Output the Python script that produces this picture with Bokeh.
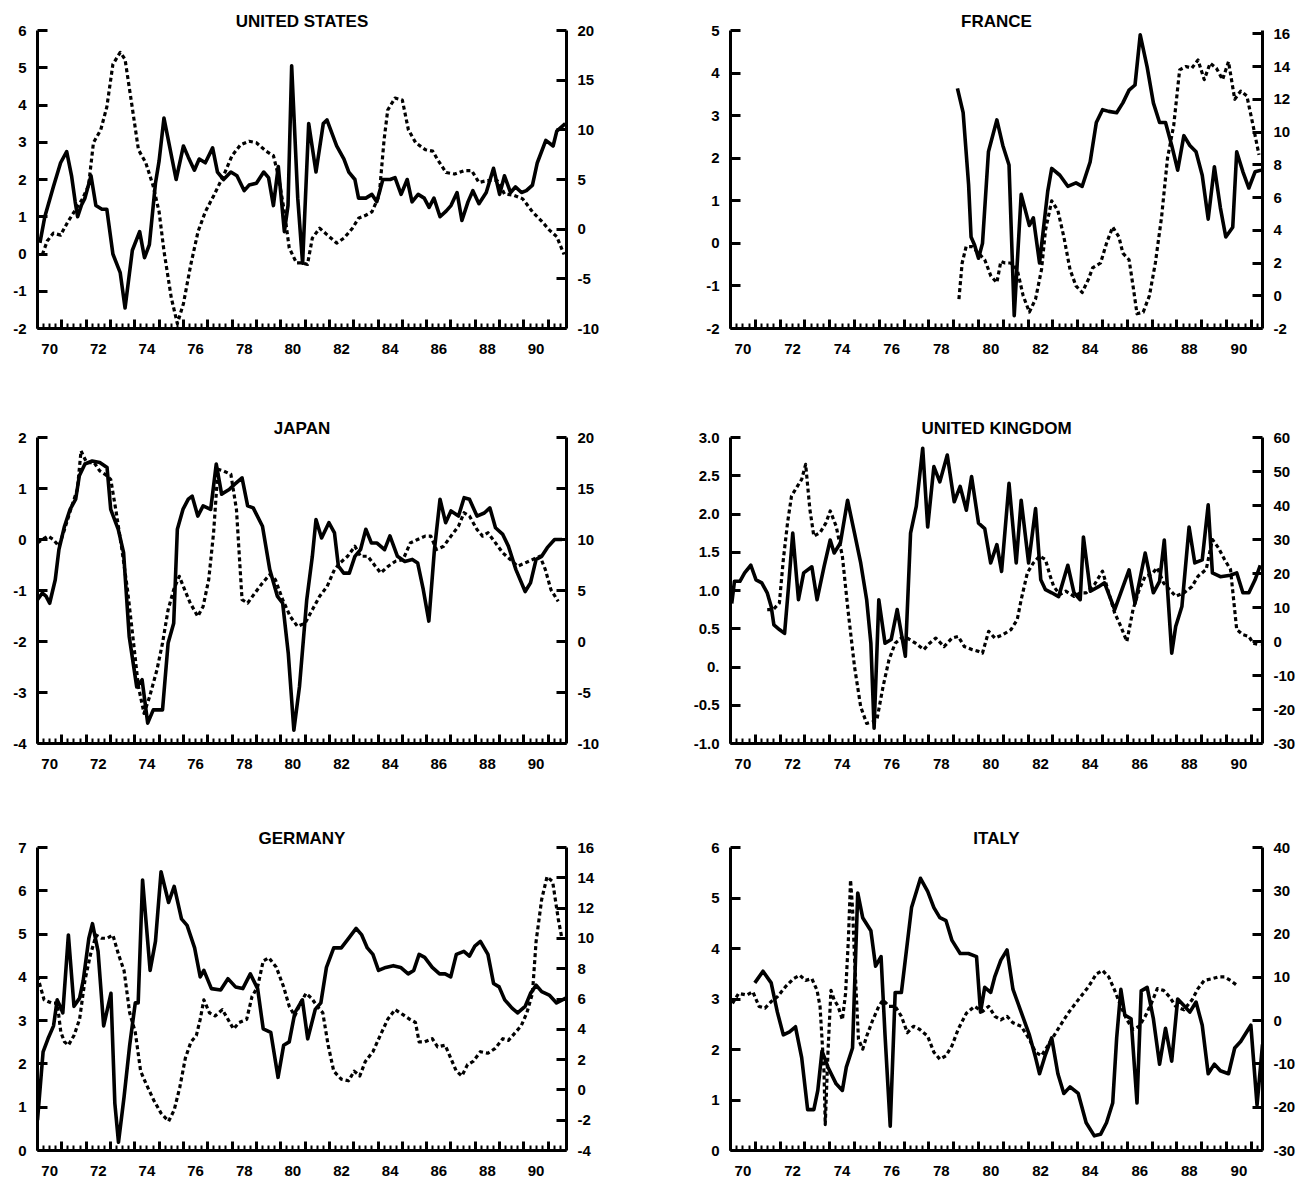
from bokeh.plotting import figure
from bokeh.models import Range1d, LinearAxis, FixedTicker, CustomLabelingPolicy
from bokeh.layouts import column, row
from bokeh.embed import file_html
from bokeh.resources import INLINE

# ---------------- data (year as 70.0 = start of 1970) ----------------
year_label_pos = [70.5, 72.5, 74.5, 76.5, 78.5, 80.5, 82.5, 84.5, 86.5, 88.5, 90.5]
year_labels = ["70", "72", "74", "76", "78", "80", "82", "84", "86", "88", "90"]

# UNITED STATES
us_solid_t = [70.1, 70.3, 70.65, 70.95, 71.2, 71.4, 71.55, 71.65, 71.8, 71.95, 72.2, 72.4, 72.65, 72.85,
              73.1, 73.4, 73.6, 73.9, 74.2, 74.4, 74.6, 74.85, 75.0, 75.2, 75.7, 76.0, 76.2, 76.45, 76.65,
              76.9, 77.2, 77.4, 77.65, 77.95, 78.2, 78.5, 78.7, 79.0, 79.3, 79.5, 79.7, 79.9, 80.15, 80.3,
              80.45, 80.7, 80.9, 81.15, 81.45, 81.75, 81.9, 82.3, 82.6, 82.8, 83.05, 83.2, 83.5, 83.75,
              83.95, 84.2, 84.5, 84.7, 84.95, 85.2, 85.4, 85.65, 85.9, 86.1, 86.3, 86.55, 86.8, 87.0,
              87.25, 87.45, 87.7, 87.9, 88.15, 88.45, 88.75, 89.0, 89.2, 89.45, 89.65, 89.9, 90.1, 90.35,
              90.55, 90.9, 91.2, 91.35, 91.7]
us_solid_v = [0.3, 1.0, 1.8, 2.45, 2.75, 2.1, 1.4, 1.0, 1.3, 1.5, 2.1, 1.3, 1.2, 1.2,
              0.0, -0.5, -1.45, 0.1, 0.6, -0.1, 0.25, 1.9, 2.5, 3.65, 2.0, 2.9, 2.6, 2.25, 2.55,
              2.45, 2.85, 2.2, 2.0, 2.2, 2.1, 1.7, 1.85, 1.9, 2.2, 2.05, 1.3, 2.35, 0.6, 1.3,
              5.05, 1.5, -0.25, 3.5, 2.2, 3.5, 3.6, 2.9, 2.55, 2.2, 2.0, 1.5, 1.5, 1.6,
              1.4, 2.0, 2.0, 2.05, 1.6, 2.0, 1.4, 1.6, 1.5, 1.25, 1.5, 1.0, 1.15, 1.3,
              1.65, 0.9, 1.4, 1.7, 1.35, 1.65, 2.3, 1.6, 2.1, 1.65, 1.8, 1.65, 1.7, 1.85,
              2.45, 3.05, 2.9, 3.3, 3.5]
us_dash_t = [70.2, 70.4, 70.65, 70.95, 71.25, 71.55, 71.85, 72.1, 72.3, 72.6, 72.85, 73.1, 73.4, 73.6,
             73.85, 74.15, 74.45, 74.75, 75.0, 75.2, 75.5, 75.75, 76.0, 76.3, 76.6, 76.9, 77.25, 77.65,
             78.0, 78.35, 78.7, 79.0, 79.4, 79.7, 79.9, 80.15, 80.35, 80.65, 80.9, 81.1, 81.3, 81.6,
             81.9, 82.3, 82.6, 82.95, 83.2, 83.5, 83.75, 84.05, 84.25, 84.4, 84.7, 85.0, 85.25, 85.55,
             85.95, 86.25, 86.45, 86.8, 87.15, 87.55, 87.85, 88.15, 88.5, 88.9, 89.2, 89.6, 89.95,
             90.35, 90.75, 91.05, 91.35, 91.65]
us_dash_v = [-2.55, -1.2, -0.4, -0.6, 0.75, 1.9, 3.05, 4.4, 8.7, 10.0, 12.3, 16.6, 17.8, 17.1,
             13.0, 8.0, 6.7, 4.4, 1.75, -2.2, -6.9, -9.5, -7.5, -3.6, -0.25, 1.75, 3.4, 5.4,
             7.4, 8.5, 8.85, 8.7, 7.85, 7.4, 5.4, 1.75, -1.9, -3.4, -3.4, -3.55, -0.9, 0.1,
             -0.55, -1.4, -0.9, 0.1, 1.1, 1.4, 1.75, 3.4, 9.0, 12.0, 13.2, 13.0, 10.0, 8.7,
             8.0, 7.85, 7.0, 5.7, 5.55, 5.9, 5.9, 4.7, 4.9, 4.9, 3.55, 3.4, 3.05,
             1.75, 0.75, -0.1, -0.75, -2.55]

# FRANCE
fr_solid_t = [79.15, 79.38, 79.6, 79.7, 79.84, 80.0, 80.16, 80.4, 80.74, 80.98, 81.23, 81.44, 81.72,
              82.05, 82.21, 82.46, 82.79, 82.95, 83.28, 83.6, 83.93, 84.18, 84.5, 84.75, 85.0, 85.25,
              85.57, 85.82, 86.07, 86.31, 86.52, 86.8, 87.05, 87.3, 87.54, 87.79, 88.03, 88.28, 88.52,
              88.77, 89.02, 89.26, 89.51, 89.75, 89.97, 90.25, 90.41, 90.66, 90.9, 91.15, 91.4]
fr_solid_v = [3.64, 3.07, 1.38, 0.15, -0.04, -0.35, 0.0, 2.15, 2.9, 2.3, 1.84, -1.7, 1.15,
              0.42, 0.6, -0.46, 1.22, 1.76, 1.6, 1.34, 1.42, 1.34, 1.91, 2.84, 3.14, 3.1,
              3.07, 3.3, 3.6, 3.72, 4.9, 4.14, 3.3, 2.84, 2.84, 2.3, 1.72, 2.53, 2.3,
              2.15, 1.6, 0.57, 1.8, 0.84, 0.15, 0.38, 2.15, 1.68, 1.3, 1.68, 1.72]
fr_dash_t = [79.21, 79.34, 79.5, 79.75, 80.0, 80.25, 80.5, 80.74, 80.9, 81.07, 81.3, 81.56, 81.8,
             82.05, 82.3, 82.54, 82.7, 82.95, 83.2, 83.44, 83.69, 83.93, 84.18, 84.43, 84.6, 84.92,
             85.16, 85.41, 85.66, 85.82, 86.07, 86.23, 86.39, 86.64, 86.89, 87.13, 87.38, 87.62,
             87.87, 88.11, 88.36, 88.6, 88.85, 89.1, 89.34, 89.59, 89.84, 90.08, 90.33, 90.57,
             90.82, 91.07, 91.31]
fr_dash_v = [-0.2, 2.0, 3.0, 3.0, 2.6, 2.2, 1.2, 0.8, 2.1, 2.0, 2.0, 1.6, 0.0,
             -1.0, -0.2, 1.6, 4.0, 5.8, 5.2, 3.6, 1.6, 0.6, 0.2, 1.0, 1.7, 2.0,
             3.2, 4.2, 3.6, 2.6, 2.2, 0.6, -1.1, -1.0, 0.0, 2.0, 4.8, 8.4,
             10.4, 13.8, 14.0, 13.9, 14.4, 13.2, 14.2, 13.9, 13.2, 14.3, 12.0, 12.5,
             12.2, 10.4, 8.6]

# JAPAN
jp_solid_t = [70.0, 70.2, 70.35, 70.5, 70.73, 70.88, 71.11, 71.34, 71.57, 71.72,
              71.95, 72.25, 72.56, 72.86, 73.01, 73.32, 73.54, 73.77, 74.08, 74.3,
              74.53, 74.76, 75.14, 75.37, 75.6, 75.75, 75.98, 76.2, 76.36, 76.59,
              76.81, 77.12, 77.35, 77.57, 77.88, 78.1, 78.41, 78.64, 78.87, 79.25,
              79.55, 79.86, 80.08, 80.31, 80.54, 80.77, 81.07, 81.3, 81.45, 81.68,
              81.98, 82.21, 82.37, 82.59, 82.82, 83.05, 83.28, 83.5, 83.73, 83.96,
              84.27, 84.49, 84.8, 85.1, 85.41, 85.63, 85.86, 86.09, 86.32, 86.55,
              86.78, 87.0, 87.31, 87.54, 87.76, 88.07, 88.37, 88.6, 88.83, 89.13,
              89.36, 89.67, 90.05, 90.27, 90.5, 90.73, 90.96, 91.26, 91.57]
jp_solid_v = [-1.18, -1.05, -1.11, -1.25, -0.79, -0.2, 0.26, 0.59, 0.79, 1.25,
              1.48, 1.54, 1.51, 1.41, 0.59, 0.2, -0.26, -1.9, -2.89, -2.75,
              -3.6, -3.34, -3.34, -2.03, -1.64, 0.2, 0.59, 0.79, 0.85, 0.46,
              0.66, 0.59, 1.48, 0.89, 0.98, 1.08, 1.21, 0.66, 0.62, 0.26,
              -0.59, -1.11, -1.25, -2.23, -3.74, -2.89, -1.18, -0.33, 0.39, 0.03,
              0.33, 0.13, -0.52, -0.66, -0.66, -0.33, -0.2, 0.2, -0.07, -0.07,
              -0.2, 0.07, -0.33, -0.43, -0.39, -0.46, -0.98, -1.6, -0.2, 0.79,
              0.33, 0.56, 0.46, 0.82, 0.79, 0.46, 0.52, 0.62, 0.23, 0.1,
              -0.13, -0.59, -1.02, -0.85, -0.39, -0.33, -0.16, 0.0, 0.0]
jp_dash_t = [70.0, 70.2, 70.43, 70.65, 70.88, 71.11, 71.41, 71.64, 71.79, 72.02,
             72.33, 72.56, 72.78, 73.01, 73.24, 73.47, 73.7, 73.92, 74.15, 74.38,
             74.61, 74.91, 75.14, 75.37, 75.6, 75.83, 76.05, 76.28, 76.59, 76.81,
             77.04, 77.24, 77.42, 77.65, 77.95, 78.18, 78.41, 78.64, 78.94, 79.25,
             79.55, 79.78, 80.08, 80.39, 80.69, 81.0, 81.3, 81.6, 81.91, 82.21,
             82.44, 82.75, 83.05, 83.28, 83.58, 83.89, 84.11, 84.42, 84.72, 85.03,
             85.33, 85.63, 85.94, 86.17, 86.4, 86.7, 87.0, 87.31, 87.54, 87.76,
             88.07, 88.3, 88.52, 88.83, 89.13, 89.44, 89.74, 90.05, 90.35, 90.66,
             90.88, 91.11, 91.41]
jp_dash_v = [9.67, 10.0, 10.33, 10.0, 9.34, 10.98, 13.28, 14.92, 18.69, 17.54,
             17.54, 16.72, 16.39, 15.9, 12.62, 9.02, 5.08, 0.49, -4.43, -7.05,
             -5.41, -2.79, -0.16, 3.11, 5.08, 6.39, 5.08, 3.77, 2.46, 3.44,
             6.07, 10.66, 16.89, 16.72, 16.39, 12.95, 4.1, 3.77, 4.75, 5.74,
             6.56, 6.07, 4.1, 2.46, 1.48, 1.8, 3.11, 4.43, 5.41, 7.05,
             7.7, 8.36, 9.34, 8.36, 8.36, 7.38, 6.72, 7.38, 7.87, 8.03,
             9.67, 10.0, 10.33, 10.33, 9.02, 9.34, 10.33, 11.31, 12.62, 12.3,
             10.98, 10.33, 10.66, 9.67, 8.69, 8.03, 7.38, 7.7, 8.03, 8.36,
             7.05, 5.08, 3.93]

# UNITED KINGDOM
uk_solid_t = [70.05, 70.16, 70.38, 70.57, 70.82, 71.03, 71.26, 71.48, 71.64, 71.75,
              71.97, 72.18, 72.34, 72.51, 72.74, 72.95, 73.28, 73.49, 73.77, 74.02,
              74.18, 74.43, 74.72, 75.0, 75.25, 75.49, 75.66, 75.79, 75.98, 76.23,
              76.48, 76.72, 77.05, 77.26, 77.49, 77.75, 77.95, 78.2, 78.44, 78.74,
              79.02, 79.26, 79.51, 79.72, 80.0, 80.25, 80.49, 80.74, 80.93, 81.23,
              81.52, 81.72, 82.02, 82.3, 82.51, 82.7, 82.95, 83.23, 83.6, 83.85,
              84.1, 84.23, 84.51, 84.84, 85.08, 85.49, 86.07, 86.31, 86.72, 87.05,
              87.3, 87.49, 87.79, 87.95, 88.2, 88.49, 88.72, 89.02, 89.26, 89.43,
              89.75, 90.16, 90.41, 90.66, 90.9, 91.15, 91.36]
uk_solid_v = [0.83, 1.12, 1.12, 1.23, 1.33, 1.14, 1.1, 0.97, 0.79, 0.55,
              0.49, 0.44, 1.05, 1.75, 0.88, 1.23, 1.31, 0.88, 1.31, 1.66,
              1.49, 1.62, 2.18, 1.75, 1.36, 0.88, 0.31, -0.8, 0.88, 0.31,
              0.36, 0.75, 0.14, 1.75, 2.1, 2.86, 1.83, 2.62, 2.42, 2.77,
              2.16, 2.36, 2.05, 2.49, 1.88, 1.81, 1.36, 1.6, 1.25, 2.4,
              1.36, 2.18, 1.36, 2.07, 1.14, 1.01, 0.97, 0.92, 1.33, 0.97,
              0.88, 1.7, 0.99, 1.05, 1.1, 0.75, 1.27, 0.83, 1.49, 0.97,
              1.12, 1.66, 0.18, 0.53, 0.79, 1.83, 1.36, 1.4, 2.12, 1.23,
              1.18, 1.2, 1.23, 0.97, 0.97, 1.14, 1.33]
uk_dash_t = [71.48, 71.72, 71.97, 72.13, 72.3, 72.46, 72.7, 72.87, 73.03, 73.2,
             73.36, 73.61, 73.85, 74.02, 74.26, 74.51, 74.75, 75.0, 75.25, 75.49,
             75.74, 75.9, 76.15, 76.39, 76.64, 76.89, 77.13, 77.46, 77.79, 78.03,
             78.28, 78.61, 78.93, 79.18, 79.43, 79.75, 80.0, 80.16, 80.41, 80.66,
             80.98, 81.31, 81.56, 81.72, 81.97, 82.21, 82.46, 82.7, 82.87, 83.03,
             83.28, 83.52, 83.85, 84.1, 84.34, 84.67, 85.0, 85.25, 85.49, 85.74,
             85.98, 86.23, 86.48, 86.72, 86.97, 87.21, 87.46, 87.7, 87.95, 88.28,
             88.61, 88.85, 89.18, 89.43, 89.67, 89.92, 90.16, 90.41, 90.66, 90.9,
             91.07, 91.36]
uk_dash_v = [9.4, 9.4, 11.3, 24.1, 34.9, 42.8, 45.7, 47.7, 52.1, 38.9,
             31.0, 32.0, 34.9, 38.4, 33.9, 25.1, 8.4, -7.4, -19.2, -24.1,
             -23.6, -23.1, -13.3, -5.4, -0.5, 1.0, 1.0, -0.5, -2.4, -0.5,
             1.0, -1.5, 1.0, 1.5, -1.5, -2.4, -2.9, -3.4, 3.0, 1.0,
             2.0, 3.5, 6.4, 12.3, 20.2, 23.1, 25.1, 24.1, 19.7, 16.2,
             13.8, 14.8, 13.3, 14.3, 14.3, 16.7, 20.7, 14.3, 8.4, 4.4,
             0.0, 9.4, 15.3, 19.2, 19.7, 21.7, 17.2, 15.3, 13.3, 14.3,
             16.2, 19.2, 21.2, 30.0, 27.6, 24.1, 21.2, 3.5, 2.0, 1.5,
             -0.5, -1.0]

# GERMANY
de_solid_t = [70.0, 70.23, 70.43, 70.66, 70.81, 70.93, 71.04, 71.27, 71.5, 71.73,
              71.88, 72.11, 72.26, 72.49, 72.72, 73.02, 73.18, 73.33, 73.56, 73.79,
              74.02, 74.14, 74.32, 74.63, 74.85, 75.08, 75.39, 75.62, 75.92, 76.15,
              76.46, 76.69, 76.84, 77.15, 77.53, 77.83, 78.14, 78.44, 78.75, 79.05,
              79.28, 79.59, 79.89, 80.12, 80.35, 80.58, 80.89, 81.11, 81.42, 81.65,
              81.88, 82.18, 82.49, 82.79, 83.1, 83.33, 83.56, 83.79, 84.02, 84.32,
              84.63, 84.93, 85.24, 85.47, 85.69, 85.92, 86.23, 86.53, 86.76, 86.99,
              87.22, 87.53, 87.76, 87.98, 88.21, 88.52, 88.75, 88.98, 89.21, 89.51,
              89.74, 90.05, 90.27, 90.5, 90.73, 91.04, 91.34, 91.72]
de_solid_v = [0.7, 2.28, 2.58, 2.88, 3.48, 3.33, 3.18, 4.98, 3.33, 3.52,
              3.93, 4.9, 5.24, 4.6, 2.88, 3.63, 1.09, 0.19, 1.24, 2.43,
              3.41, 3.41, 6.25, 4.16, 4.83, 6.44, 5.73, 6.1, 5.35, 5.2,
              4.68, 4.01, 4.16, 3.74, 3.71, 3.97, 3.78, 3.74, 4.08, 3.74,
              2.81, 2.73, 1.69, 2.43, 2.51, 3.18, 3.48, 2.58, 3.26, 3.41,
              4.23, 4.68, 4.68, 4.9, 5.13, 4.98, 4.68, 4.53, 4.16, 4.23,
              4.27, 4.23, 4.08, 4.16, 4.53, 4.46, 4.23, 4.08, 4.08, 4.01,
              4.53, 4.6, 4.49, 4.72, 4.83, 4.53, 3.86, 3.78, 3.48, 3.29,
              3.18, 3.33, 3.63, 3.82, 3.67, 3.59, 3.41, 3.52]
de_dash_t = [70.0, 70.27, 70.58, 70.81, 70.96, 71.11, 71.27, 71.5, 71.73, 71.95,
             72.18, 72.41, 72.64, 72.87, 73.1, 73.33, 73.56, 73.79, 74.02, 74.24,
             74.47, 74.78, 75.08, 75.39, 75.62, 75.85, 76.08, 76.31, 76.53, 76.69,
             76.84, 77.07, 77.3, 77.6, 77.83, 78.06, 78.29, 78.6, 78.82, 79.05,
             79.28, 79.51, 79.82, 80.12, 80.35, 80.58, 80.81, 81.04, 81.27, 81.5,
             81.73, 81.95, 82.18, 82.49, 82.79, 83.02, 83.25, 83.48, 83.79, 84.09,
             84.4, 84.7, 85.01, 85.31, 85.54, 85.69, 85.92, 86.23, 86.45, 86.76,
             86.99, 87.22, 87.45, 87.68, 87.91, 88.21, 88.52, 88.82, 89.13, 89.36,
             89.66, 89.89, 90.12, 90.35, 90.5, 90.73, 90.95, 91.18, 91.41, 91.56]
de_dash_v = [7.5, 5.95, 5.73, 5.73, 3.81, 3.17, 2.95, 3.59, 4.66, 7.23,
             8.94, 10.22, 10.01, 10.01, 10.22, 8.94, 7.87, 5.09, 3.81, 1.24,
             0.38, -0.68, -1.54, -2.07, -1.33, 0.17, 2.1, 3.17, 3.59, 4.66,
             5.95, 5.09, 4.88, 5.3, 4.66, 4.02, 4.45, 4.66, 6.16, 6.8,
             8.51, 8.73, 8.09, 6.8, 5.52, 4.88, 5.73, 6.37, 6.05, 5.52,
             5.09, 2.95, 1.24, 0.71, 0.6, 1.24, 0.92, 1.88, 2.52, 3.59,
             4.66, 5.3, 4.98, 4.66, 4.45, 3.17, 3.17, 3.38, 2.84, 2.95,
             2.1, 1.24, 0.92, 1.67, 1.88, 2.52, 2.42, 2.74, 3.38, 3.27,
             3.81, 4.24, 5.09, 6.37, 9.8, 12.58, 14.07, 13.75, 11.29, 10.01]

# ITALY
it_solid_t = [70.98, 71.31, 71.64, 71.89, 72.13, 72.38, 72.62, 72.87, 73.11, 73.36,
              73.52, 73.69, 73.93, 74.26, 74.51, 74.67, 74.92, 75.13, 75.33, 75.66,
              75.85, 76.07, 76.23, 76.44, 76.64, 76.89, 77.3, 77.66, 77.95, 78.2,
              78.44, 78.69, 78.93, 79.26, 79.59, 79.92, 80.08, 80.25, 80.49, 80.66,
              80.9, 81.15, 81.39, 81.72, 82.05, 82.3, 82.46, 82.7, 82.95, 83.2,
              83.44, 83.69, 84.02, 84.34, 84.67, 84.92, 85.16, 85.41, 85.57, 85.74,
              85.9, 86.15, 86.39, 86.56, 86.8, 87.05, 87.3, 87.54, 87.79, 88.03,
              88.28, 88.52, 88.77, 89.02, 89.26, 89.51, 89.75, 90.08, 90.33, 90.57,
              90.98, 91.23, 91.45]
it_solid_v = [3.32, 3.55, 3.32, 2.74, 2.29, 2.35, 2.45, 1.84, 0.81, 0.81,
              1.19, 1.97, 1.65, 1.32, 1.19, 1.65, 2.03, 5.1, 4.61, 4.35,
              3.65, 3.84, 2.29, 0.48, 3.13, 3.13, 4.81, 5.39, 5.13, 4.81,
              4.61, 4.55, 4.16, 3.9, 3.9, 3.84, 2.74, 3.23, 3.13, 3.45,
              3.77, 3.97, 3.19, 2.74, 2.29, 1.84, 1.52, 1.9, 2.23, 1.52,
              1.13, 1.26, 1.13, 0.55, 0.29, 0.32, 0.55, 0.94, 2.23, 3.19,
              2.68, 2.61, 0.94, 3.16, 3.23, 2.61, 1.71, 2.42, 1.77, 3.0,
              2.87, 2.74, 2.94, 2.48, 1.52, 1.71, 1.58, 1.52, 2.03, 2.16,
              2.48, 0.9, 2.1]
it_dash_t = [70.08, 70.33, 70.66, 70.9, 71.15, 71.39, 71.64, 71.89, 72.21, 72.54,
             72.79, 73.03, 73.28, 73.49, 73.61, 73.69, 73.77, 73.82, 73.93, 74.05,
             74.18, 74.34, 74.51, 74.64, 74.75, 74.84, 74.92, 75.0, 75.16, 75.33,
             75.49, 75.74, 75.98, 76.15, 76.39, 76.64, 76.89, 77.13, 77.38, 77.62,
             77.95, 78.2, 78.44, 78.69, 78.93, 79.18, 79.51, 79.84, 80.16, 80.41,
             80.66, 80.9, 81.15, 81.39, 81.72, 82.05, 82.3, 82.54, 82.87, 83.2,
             83.61, 84.02, 84.43, 84.75, 85.0, 85.25, 85.49, 85.74, 85.98, 86.23,
             86.48, 86.72, 86.97, 87.21, 87.46, 87.7, 87.95, 88.28, 88.61, 88.85,
             89.1, 89.43, 89.67, 89.92, 90.16, 90.41]
it_dash_v = [4.0, 6.3, 5.9, 6.7, 3.3, 2.9, 4.4, 5.5, 7.8, 9.7,
             10.5, 9.3, 9.7, 7.0, 3.3, -4.3, -11.9, -24.0, -7.3, 7.0,
             4.8, 3.3, 0.2, 6.3, 18.4, 32.5, 26.0, 14.6, -4.3, -6.6,
             -3.6, 0.2, 3.3, 4.8, 3.3, 3.3, 1.0, -2.8, -1.3, -2.0,
             -3.6, -7.3, -8.9, -8.1, -5.8, -2.0, 1.7, 3.3, 2.1, 3.3,
             1.0, 0.2, 1.0, -0.5, -1.3, -4.3, -7.3, -8.1, -5.1, -2.0,
             1.7, 4.8, 7.8, 10.8, 11.6, 10.1, 7.0, 3.3, 0.2, -2.0,
             -1.3, 1.0, 4.0, 7.4, 7.0, 5.5, 3.3, 2.5, 4.8, 7.4,
             9.3, 9.7, 10.1, 10.1, 9.3, 8.2]

# axis tick values
us_left_ticks = [-2, -1, 0, 1, 2, 3, 4, 5, 6]
us_right_ticks = [-10, -5, 0, 5, 10, 15, 20]
fr_left_ticks = [-2, -1, 0, 1, 2, 3, 4, 5]
fr_right_ticks = [-2, 0, 2, 4, 6, 8, 10, 12, 14, 16]
jp_left_ticks = [-4, -3, -2, -1, 0, 1, 2]
jp_right_ticks = [-10, -5, 0, 5, 10, 15, 20]
uk_left_ticks = [-1.0, -0.5, 0.0, 0.5, 1.0, 1.5, 2.0, 2.5, 3.0]
uk_left_labels = ["-1.0", "-0.5", "0.", "0.5", "1.0", "1.5", "2.0", "2.5", "3.0"]
uk_right_ticks = [-30, -20, -10, 0, 10, 20, 30, 40, 50, 60]
de_left_ticks = [0, 1, 2, 3, 4, 5, 6, 7]
de_right_ticks = [-4, -2, 0, 2, 4, 6, 8, 10, 12, 14, 16]
it_left_ticks = [0, 1, 2, 3, 4, 5, 6]
it_right_ticks = [-30, -20, -10, 0, 10, 20, 30, 40]

FONT = "Liberation Sans"
TICK_FS = "15px"
LEFT_X_END = 91.75
RIGHT_X_END = 91.45


def style_axis(ax, size=TICK_FS):
    ax.axis_line_width = 3
    ax.axis_line_color = "black"
    ax.major_tick_line_width = 3
    ax.major_tick_line_color = "black"
    ax.minor_tick_line_width = 2
    ax.minor_tick_line_color = "black"
    ax.major_label_text_font = FONT
    ax.major_label_text_font_style = "bold"
    ax.major_label_text_font_size = size
    ax.major_label_text_color = "black"


def panel(title, x_end, left_range, right_range, left_ticks, right_ticks,
          st, sv, dt, dv, width, height, bl, br, bt, bb, left_labels=None):
    p = figure(width=width, height=height, x_range=Range1d(70, x_end),
               y_range=Range1d(*left_range), output_backend="svg",
               toolbar_location=None, x_axis_type=None, y_axis_type=None,
               min_border_left=bl, min_border_right=br, min_border_top=bt,
               min_border_bottom=bb)
    p.outline_line_color = None
    p.background_fill_color = "white"
    p.border_fill_color = "white"
    p.extra_y_ranges = {"r": Range1d(*right_range)}

    p.title.text = title
    p.title.align = "center"
    p.title.text_font = FONT
    p.title.text_font_style = "bold"
    p.title.text_font_size = "17px"
    p.title.text_color = "black"
    p.title.standoff = 0

    if left_labels is None:
        left_labels = [str(t) for t in left_ticks]
    yl = LinearAxis(ticker=FixedTicker(ticks=left_ticks, minor_ticks=[]),
                    major_label_overrides={t: s for t, s in zip(left_ticks, left_labels)},
                    major_tick_in=10, major_tick_out=0, minor_tick_in=0, minor_tick_out=0,
                    major_label_standoff=11)
    style_axis(yl)
    p.add_layout(yl, "left")

    yr = LinearAxis(y_range_name="r", ticker=FixedTicker(ticks=right_ticks, minor_ticks=[]),
                    major_label_overrides={t: str(t) for t in right_ticks},
                    major_tick_in=10, major_tick_out=0, minor_tick_in=0, minor_tick_out=0,
                    major_label_standoff=11)
    style_axis(yr)
    p.add_layout(yr, "right")

    last = int(x_end)
    years = list(range(70, last + 1))
    quarters = [y + q / 4 for y in range(70, last + 1) for q in (1, 2, 3) if y + q / 4 < x_end]
    xt = LinearAxis(ticker=FixedTicker(ticks=years, minor_ticks=quarters),
                    major_label_policy=CustomLabelingPolicy(code="return []"),
                    major_tick_in=9, major_tick_out=0, minor_tick_in=5, minor_tick_out=0,
                    major_label_standoff=0)
    style_axis(xt, size="1px")
    p.add_layout(xt, "below")

    xl = LinearAxis(ticker=FixedTicker(ticks=year_label_pos, minor_ticks=[]),
                    major_label_overrides={t: s for t, s in zip(year_label_pos, year_labels)},
                    major_tick_in=0, major_tick_out=0, minor_tick_in=0, minor_tick_out=0,
                    major_label_standoff=11)
    style_axis(xl)
    xl.axis_line_color = None
    xl.major_tick_line_color = None
    xl.minor_tick_line_color = None
    p.add_layout(xl, "below")

    p.line(st, sv, line_width=3.6, color="black", line_join="round")
    p.line(dt, dv, y_range_name="r", line_width=3.2, color="black",
           line_dash="4 3", line_join="round")
    return p


LW, RW = 688, 622
LBL, LBR = 37, 122
RBL, RBR = 42, 48

p1 = panel("UNITED STATES", LEFT_X_END, (-2, 6), (-10, 20), us_left_ticks, us_right_ticks,
           us_solid_t, us_solid_v, us_dash_t, us_dash_v, LW, 415, LBL, LBR, 30, 87)
p2 = panel("FRANCE", RIGHT_X_END, (-2, 5), (-2, 16.2), fr_left_ticks, fr_right_ticks,
           fr_solid_t, fr_solid_v, fr_dash_t, fr_dash_v, RW, 415, RBL, RBR, 30, 87)
p3 = panel("JAPAN", LEFT_X_END, (-4, 2), (-10, 20), jp_left_ticks, jp_right_ticks,
           jp_solid_t, jp_solid_v, jp_dash_t, jp_dash_v, LW, 410, LBL, LBR, 22, 82)
p4 = panel("UNITED KINGDOM", RIGHT_X_END, (-1, 3), (-30, 60), uk_left_ticks, uk_right_ticks,
           uk_solid_t, uk_solid_v, uk_dash_t, uk_dash_v, RW, 410, RBL, RBR, 22, 82,
           left_labels=uk_left_labels)
p5 = panel("GERMANY", LEFT_X_END, (0, 7), (-4, 16), de_left_ticks, de_right_ticks,
           de_solid_t, de_solid_v, de_dash_t, de_dash_v, LW, 362, LBL, LBR, 22, 37)
p6 = panel("ITALY", RIGHT_X_END, (0, 6), (-30, 40), it_left_ticks, it_right_ticks,
           it_solid_t, it_solid_v, it_dash_t, it_dash_v, RW, 362, RBL, RBR, 22, 37)

layout = column(row(p1, p2), row(p3, p4), row(p5, p6))
open("out.html", "w").write(file_html(layout, INLINE))
